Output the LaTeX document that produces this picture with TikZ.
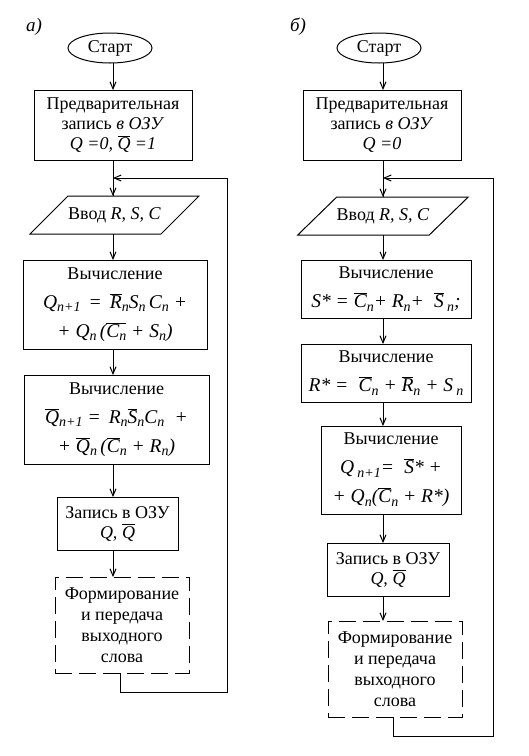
\documentclass[tikz,border=0pt]{standalone}
\usepackage{fontspec}
\setmainfont{Liberation Serif}
\usetikzlibrary{shapes.geometric,arrows.meta}
\newcommand{\ov}[1]{\ensuremath{\overline{\hbox{#1}}}}
\newcommand{\ix}[1]{\raisebox{-0.4ex}{\fontsize{14}{14}\selectfont\itshape #1}}
\begin{document}
\begin{tikzpicture}[x=1pt,y=-1pt,line width=1pt,
  font=\fontsize{18}{20}\selectfont,
  every node/.style={inner sep=0pt,outer sep=0pt,align=center},
  boxn/.style={draw,rectangle},
  dbox/.style={draw,rectangle,dash pattern=on 17pt off 7pt},
  oval/.style={draw,ellipse,minimum width=84pt,minimum height=30pt},
  fml/.style={font=\fontsize{19.5}{29}\selectfont},
  arr/.style={-{Straight Barb[length=7pt,width=6pt]}},
  plain/.style={}]
\useasboundingbox (0,0) rectangle (529,756);
% labels
\node (la) at (34,27) {\itshape\fontsize{19}{20}\selectfont а)};
\node (lb) at (298,27) {\itshape\fontsize{19}{20}\selectfont б)};
\coordinate (ax) at (113,0);
\coordinate (bx) at (383,0);
% ----- column a -----
\node[oval] (sta) at (110,48) {Старт};
\node[boxn,minimum width=158pt,minimum height=70pt] (prea) at (113,125)
  {Предварительная\\запись \textit{в ОЗУ}\\\textit{Q =0, \ov{Q} =1}};
\node[minimum width=131pt,minimum height=38pt] (ina) at (114.5,215) {Ввод \textit{R, S, C}};
\draw ([xshift=-19pt]ina.south west) -- ([xshift=19pt]ina.north west) -- ([xshift=19pt]ina.north east) -- ([xshift=-19pt]ina.south east) -- cycle;
\node[boxn,minimum width=184pt,minimum height=89pt,fml] (c1a) at (115,304.5)
  {{\fontsize{18}{20}\selectfont Вычисление}\\
   \itshape Q\ix{n+1}\, = \,\ov{R}\ix{n}S\ix{n}\,C\ix{n} +\\
   \itshape + Q\ix{n}\,(\ov{C\ix{n}} + S\ix{n})};
\node[boxn,minimum width=185pt,minimum height=89pt,fml] (c2a) at (116.5,419.5)
  {{\fontsize{18}{20}\selectfont Вычисление}\\
   \itshape \ov{Q}\ix{n+1} = \,R\ix{n}\ov{S}\ix{n}C\ix{n}\; +\\
   \itshape + \ov{Q}\ix{n}\,(\ov{C}\ix{n} + R\ix{n})};
\node[boxn,minimum width=121pt,minimum height=53pt] (wa) at (117.5,523.5)
  {Запись в ОЗУ\\\textit{Q, \ov{Q}}};
\node[dbox,minimum width=134pt,minimum height=96pt,font=\fontsize{18}{21}\selectfont] (fa) at (122,625)
  {Формирование\\и передача\\выходного\\слова};
\draw[arr] (ax |- sta.south) -- (ax |- prea.north);
\draw (ax |- prea.south) -- (ax |- ina.north);
\draw[arr] (ax |- ina.south) -- (ax |- c1a.north);
\draw[arr] (ax |- c1a.south) -- (ax |- c2a.north);
\draw[arr] (ax |- c2a.south) -- (ax |- wa.north);
\draw[arr] (ax |- wa.south) -- (ax |- fa.north);
\coordinate (la1) at (120,692);
\coordinate (la2) at (227,178);
\draw (la1 |- fa.south) -- (la1) -| (la2);
\draw[arr] (la2) -- (ax |- la2);
\draw[arr] (ax |- la2) -- (ax |- ina.north);
% ----- column b -----
\node[oval] (stb) at (379,48) {Старт};
\node[boxn,minimum width=158pt,minimum height=70pt] (preb) at (382,125)
  {Предварительная\\запись \textit{в ОЗУ}\\\textit{Q =0}};
\node[minimum width=131.5pt,minimum height=38pt] (inb) at (383,216) {Ввод \textit{R, S, C}};
\draw ([xshift=-19.5pt]inb.south west) -- ([xshift=19.5pt]inb.north west) -- ([xshift=19.5pt]inb.north east) -- ([xshift=-19.5pt]inb.south east) -- cycle;
\node[boxn,minimum width=170pt,minimum height=58pt,fml] (c1b) at (386,289)
  {{\fontsize{18}{20}\selectfont Вычисление}\\
   \itshape S* = \ov{C}\ix{n}+ R\ix{n}+ \;\ov{S}\,\ix{n};};
\node[boxn,minimum width=170pt,minimum height=58pt,fml] (c2b) at (386,373)
  {{\fontsize{18}{20}\selectfont Вычисление}\\
   \itshape R* = \;\ov{C}\ix{n} + \ov{R}\ix{n} + S\,\ix{n}};
\node[boxn,minimum width=140pt,minimum height=88pt,fml] (c3b) at (391,470)
  {{\fontsize{18}{20}\selectfont Вычисление}\\
   \itshape Q\,\ix{n+1}= \;\ov{S}* +\\
   \itshape + Q\ix{n}(\ov{C}\ix{n} + R*)};
\node[boxn,minimum width=122pt,minimum height=53pt] (wb) at (388,569.5)
  {Запись в ОЗУ\\\textit{Q, \ov{Q}}};
\node[dbox,minimum width=134pt,minimum height=96pt,font=\fontsize{18}{21}\selectfont] (fb) at (395,669)
  {Формирование\\и передача\\выходного\\слова};
\draw[arr] (bx |- stb.south) -- (bx |- preb.north);
\draw (bx |- preb.south) -- (bx |- inb.north);
\draw[arr] (bx |- inb.south) -- (bx |- c1b.north);
\draw[arr] (bx |- c1b.south) -- (bx |- c2b.north);
\draw[arr] (bx |- c2b.south) -- (bx |- c3b.north);
\draw[arr] (bx |- c3b.south) -- (bx |- wb.north);
\draw[arr] (bx |- wb.south) -- (bx |- fb.north);
\coordinate (lb1) at (393,736);
\coordinate (lb2) at (493,178);
\draw (lb1 |- fb.south) -- (lb1) -| (lb2);
\draw[arr] (lb2) -- (bx |- lb2);
\draw[arr] (bx |- lb2) -- (bx |- inb.north);
\end{tikzpicture}
\end{document}
